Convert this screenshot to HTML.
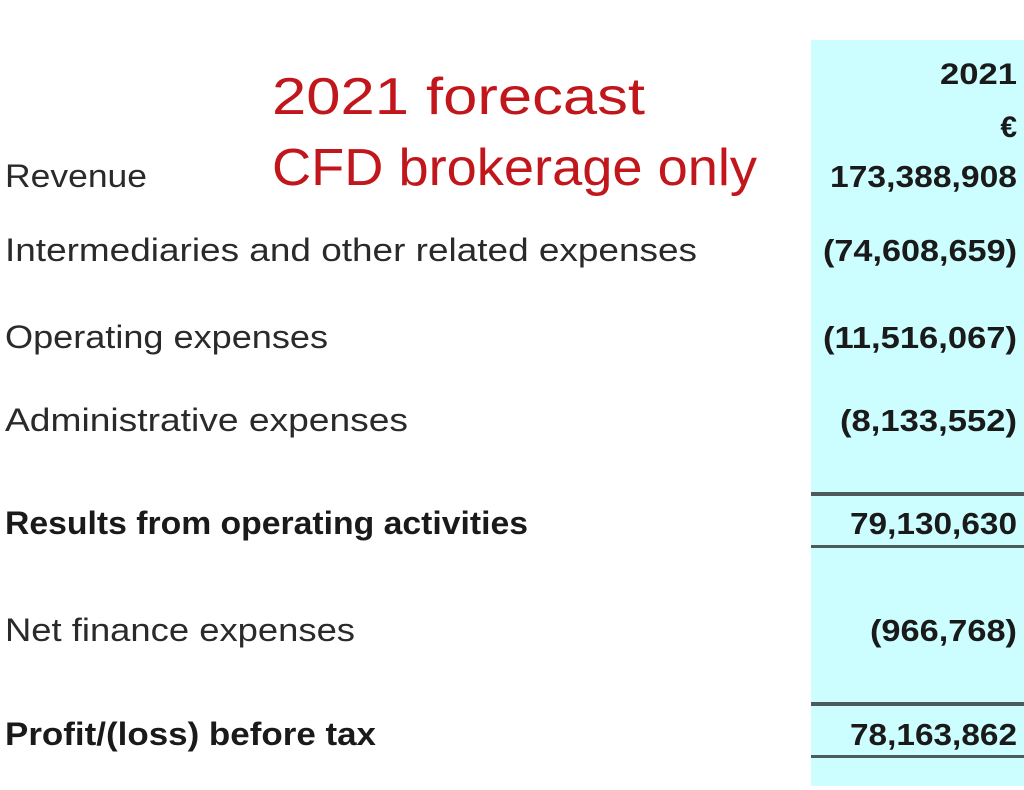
<!DOCTYPE html>
<html><head><meta charset="utf-8"><style>
html,body{margin:0;padding:0;background:#fff;}
svg{display:block;}
text{font-family:"Liberation Sans",sans-serif;fill:#2a2a2a;}
.v{font-weight:bold;fill:#1a1a1a;}
.b{font-weight:bold;fill:#1a1a1a;}
.r{fill:#c0161c;font-weight:normal;}
</style></head><body>
<svg width="1024" height="790" viewBox="0 0 1024 790">
<rect x="811" y="40" width="213" height="746" fill="#ccfeff"/>
<g fill="#4f5a5a">
<rect x="811" y="492" width="213" height="4"/>
<rect x="811" y="545" width="213" height="3"/>
<rect x="811" y="702" width="213" height="4"/>
<rect x="811" y="755" width="213" height="3"/>
</g>
<text class="v" x="940" y="84" font-size="30" textLength="77" lengthAdjust="spacingAndGlyphs">2021</text>
<text class="v" x="1017" y="137" font-size="30" text-anchor="end">€</text>
<text class="r" x="272" y="114" font-size="52" textLength="373" lengthAdjust="spacingAndGlyphs">2021 forecast</text>
<text class="r" x="272" y="185" font-size="52" textLength="485" lengthAdjust="spacingAndGlyphs">CFD brokerage only</text>

<text x="5" y="187" font-size="32" textLength="142" lengthAdjust="spacingAndGlyphs">Revenue</text>
<text class="v" x="830" y="187" font-size="31" textLength="187" lengthAdjust="spacingAndGlyphs">173,388,908</text>

<text x="5" y="261" font-size="32" textLength="692" lengthAdjust="spacingAndGlyphs">Intermediaries and other related expenses</text>
<text class="v" x="823" y="261" font-size="31" textLength="194" lengthAdjust="spacingAndGlyphs">(74,608,659)</text>

<text x="5" y="348" font-size="32" textLength="323" lengthAdjust="spacingAndGlyphs">Operating expenses</text>
<text class="v" x="823" y="348" font-size="31" textLength="194" lengthAdjust="spacingAndGlyphs">(11,516,067)</text>

<text x="5" y="431" font-size="32" textLength="403" lengthAdjust="spacingAndGlyphs">Administrative expenses</text>
<text class="v" x="840" y="431" font-size="31" textLength="177" lengthAdjust="spacingAndGlyphs">(8,133,552)</text>

<text class="b" x="5" y="534" font-size="32" textLength="523" lengthAdjust="spacingAndGlyphs">Results from operating activities</text>
<text class="v" x="850" y="534" font-size="31" textLength="167" lengthAdjust="spacingAndGlyphs">79,130,630</text>

<text x="5" y="641" font-size="32" textLength="350" lengthAdjust="spacingAndGlyphs">Net finance expenses</text>
<text class="v" x="870" y="641" font-size="31" textLength="147" lengthAdjust="spacingAndGlyphs">(966,768)</text>

<text class="b" x="5" y="745" font-size="32" textLength="371" lengthAdjust="spacingAndGlyphs">Profit/(loss) before tax</text>
<text class="v" x="850" y="745" font-size="31" textLength="167" lengthAdjust="spacingAndGlyphs">78,163,862</text>
</svg>
</body></html>
